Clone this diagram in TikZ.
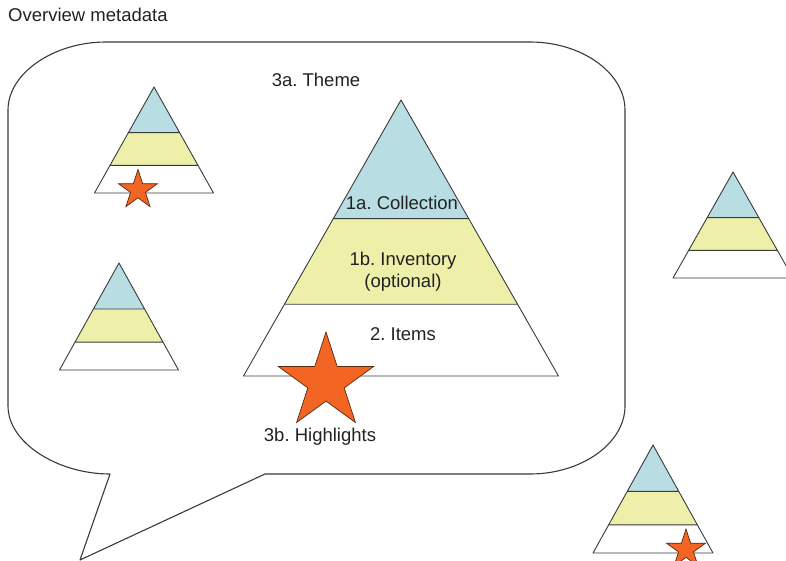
\documentclass[tikz,border=0pt]{standalone}
\usepackage{fontspec}
\setmainfont{Liberation Sans}
\usepackage{tikz}
\frenchspacing

\definecolor{linegray}{HTML}{3A3A3A}
\definecolor{textgray}{HTML}{222222}
\definecolor{collblue}{HTML}{B8DDE3}
\definecolor{invyellow}{HTML}{EEF0A9}
\definecolor{staror}{HTML}{F26522}
\definecolor{stardark}{HTML}{5A2A12}

% apex x, apex y, height, half base width
\newcommand{\metapyramid}[4]{%
    \fill[collfill]
        (#1,#2) -- ({#1-0.43*#4},{#2+0.43*#3}) -- ({#1+0.43*#4},{#2+0.43*#3}) -- cycle;
    \fill[invfill]
        ({#1-0.43*#4},{#2+0.43*#3}) -- ({#1+0.43*#4},{#2+0.43*#3})
        -- ({#1+0.74*#4},{#2+0.74*#3}) -- ({#1-0.74*#4},{#2+0.74*#3}) -- cycle;
    \draw[edge]
        (#1,#2) -- ({#1-#4},{#2+#3}) -- ({#1+#4},{#2+#3}) -- cycle
        ({#1-0.43*#4},{#2+0.43*#3}) -- ({#1+0.43*#4},{#2+0.43*#3})
        ({#1-0.74*#4},{#2+0.74*#3}) -- ({#1+0.74*#4},{#2+0.74*#3});
}

% centre x, centre y, outer radius
\newcommand{\hlstarat}[3]{%
    \draw[hlstar]
        plot[samples at={0,...,9}, variable=\k]
            ({#1+ifthenelse(mod(\k,2)==0,1,0.382)*#3*cos(90+36*\k)},
             {#2-ifthenelse(mod(\k,2)==0,1,0.382)*#3*sin(90+36*\k)}) -- cycle;
}

\begin{document}
\begin{tikzpicture}[x=1pt, y=-1pt,
    edge/.style={draw=linegray, line width=0.9pt, line join=round},
    collfill/.style={fill=collblue},
    invfill/.style={fill=invyellow},
    hlstar/.style={fill=staror, draw=stardark, line width=0.7pt, line join=miter},
    lbl/.style={font=\fontsize{18.5}{22}\selectfont, text=textgray, inner sep=0pt, align=center}]

    \clip
        (0,0) rectangle (786,561);

    % speech bubble
    \draw[edge, line width=1.1pt]
        (110,474) -- (80,560) -- (265,474) -- (530,474)
        .. controls (582,474) and (625,443) .. (625,406) -- (625,110)
        .. controls (625,73) and (582,42) .. (530,42) -- (106,42)
        .. controls (54,42) and (8,73) .. (8,110) -- (8,406)
        .. controls (8,443) and (58,474) .. (110,474) -- cycle;

    % pyramids
    \metapyramid{401}{100}{276}{157.5}
    \metapyramid{154}{87}{106}{59.5}
    \metapyramid{119}{263}{107}{59.5}
    \metapyramid{733}{172}{106}{60}
    \metapyramid{653}{445}{108}{60}

    % highlights
    \hlstarat{326}{382}{50}
    \hlstarat{138}{190}{20.5}
    \hlstarat{686}{549.5}{20.5}

    \node[lbl, anchor=west] (overview) at (8,15) {Overview metadata};
    \node[lbl] (theme) at (316,80) {3a. Theme};
    \node[lbl] (collection) at (402,203) {1a. Collection};
    \node[lbl] (inventory) at (403,272) {1b. Inventory\\(optional)};
    \node[lbl] (items) at (403,334) {2. Items};
    \node[lbl] (highlights) at (320,437) {3b. Highlights};

\end{tikzpicture}
\end{document}
